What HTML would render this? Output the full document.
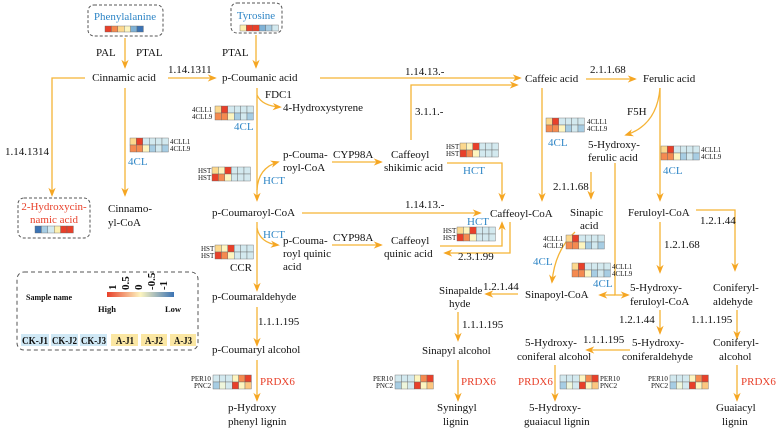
<!DOCTYPE html>
<html><head><meta charset="utf-8"><style>
html,body{margin:0;padding:0;background:#fff}
svg{display:block}
text{font-family:"Liberation Serif",serif;font-size:11px;fill:#111}
.b{fill:#2f86c6}.r{fill:#e8402a}.s{font-size:7px}
.l{fill:none;stroke:#f5b335;stroke-width:1.3}
</style></head><body>
<svg width="781" height="429" viewBox="0 0 781 429" xmlns="http://www.w3.org/2000/svg">
<defs>
<marker id="a" viewBox="0 0 10 10" refX="8" refY="5" markerWidth="7" markerHeight="7" orient="auto"><path d="M0,1 L10,5 L0,9 L3,5 Z" fill="#f5a623"/></marker>
<linearGradient id="gr"><stop offset="0" stop-color="#e8402a"/><stop offset="0.5" stop-color="#fdf5c0"/><stop offset="1" stop-color="#3b73b4"/></linearGradient>
<g id="c4"><g stroke="#666" stroke-width="0.4">
<rect x="0" y="0" width="6.4" height="7" fill="#fcd88e"/><rect x="6.4" y="0" width="6.4" height="7" fill="#e8402a"/><rect x="12.8" y="0" width="6.4" height="7" fill="#d3e9ef"/><rect x="19.2" y="0" width="6.4" height="7" fill="#d3e9ef"/><rect x="25.6" y="0" width="6.4" height="7" fill="#d3e9ef"/><rect x="32" y="0" width="6.4" height="7" fill="#d3e9ef"/>
<rect x="0" y="7" width="6.4" height="7" fill="#f58a50"/><rect x="6.4" y="7" width="6.4" height="7" fill="#f58a50"/><rect x="12.8" y="7" width="6.4" height="7" fill="#fdf5c0"/><rect x="19.2" y="7" width="6.4" height="7" fill="#a7cde3"/><rect x="25.6" y="7" width="6.4" height="7" fill="#d3e9ef"/><rect x="32" y="7" width="6.4" height="7" fill="#a7cde3"/></g></g>
<g id="hs"><g stroke="#666" stroke-width="0.4">
<rect x="0" y="0" width="6.4" height="7" fill="#fcd88e"/><rect x="6.4" y="0" width="6.4" height="7" fill="#fdf5c0"/><rect x="12.8" y="0" width="6.4" height="7" fill="#e8402a"/><rect x="19.2" y="0" width="6.4" height="7" fill="#d3e9ef"/><rect x="25.6" y="0" width="6.4" height="7" fill="#d3e9ef"/><rect x="32" y="0" width="6.4" height="7" fill="#d3e9ef"/>
<rect x="0" y="7" width="6.4" height="7" fill="#e8402a"/><rect x="6.4" y="7" width="6.4" height="7" fill="#f58a50"/><rect x="12.8" y="7" width="6.4" height="7" fill="#fdf5c0"/><rect x="19.2" y="7" width="6.4" height="7" fill="#d3e9ef"/><rect x="25.6" y="7" width="6.4" height="7" fill="#d3e9ef"/><rect x="32" y="7" width="6.4" height="7" fill="#d3e9ef"/></g></g>
<g id="pe"><g stroke="#666" stroke-width="0.4">
<rect x="0" y="0" width="6.4" height="7" fill="#d3e9ef"/><rect x="6.4" y="0" width="6.4" height="7" fill="#d3e9ef"/><rect x="12.8" y="0" width="6.4" height="7" fill="#d3e9ef"/><rect x="19.2" y="0" width="6.4" height="7" fill="#fdf5c0"/><rect x="25.6" y="0" width="6.4" height="7" fill="#f58a50"/><rect x="32" y="0" width="6.4" height="7" fill="#e8402a"/>
<rect x="0" y="7" width="6.4" height="7" fill="#a7cde3"/><rect x="6.4" y="7" width="6.4" height="7" fill="#eef6dc"/><rect x="12.8" y="7" width="6.4" height="7" fill="#d3e9ef"/><rect x="19.2" y="7" width="6.4" height="7" fill="#e8402a"/><rect x="25.6" y="7" width="6.4" height="7" fill="#fdf5c0"/><rect x="32" y="7" width="6.4" height="7" fill="#fcc680"/></g></g>
</defs>

<rect x="88" y="5" width="75" height="31" rx="6" fill="none" stroke="#555" stroke-dasharray="3,2"/>
<text x="125" y="20" text-anchor="middle" class="b">Phenylalanine</text>
<g stroke="#666" stroke-width="0.4"><rect x="105" y="26" width="6.4" height="6" fill="#e8402a"/><rect x="111.4" y="26" width="6.4" height="6" fill="#f58a50"/><rect x="117.8" y="26" width="6.4" height="6" fill="#fcd88e"/><rect x="124.2" y="26" width="6.4" height="6" fill="#fdf5c0"/><rect x="130.6" y="26" width="6.4" height="6" fill="#7fb2d6"/><rect x="137" y="26" width="6.4" height="6" fill="#3b73b4"/></g>
<rect x="231" y="3" width="51" height="30" rx="6" fill="none" stroke="#555" stroke-dasharray="3,2"/>
<text x="256" y="19" text-anchor="middle" class="b">Tyrosine</text>
<g stroke="#666" stroke-width="0.4"><rect x="240" y="25" width="6.4" height="6" fill="#fdf0b0"/><rect x="246.4" y="25" width="6.4" height="6" fill="#e8402a"/><rect x="252.8" y="25" width="6.4" height="6" fill="#e8402a"/><rect x="259.2" y="25" width="6.4" height="6" fill="#7fb2d6"/><rect x="265.6" y="25" width="6.4" height="6" fill="#a7cde3"/><rect x="272" y="25" width="6.4" height="6" fill="#d3e9ef"/></g>
<rect x="18" y="198" width="72" height="40" rx="6" fill="none" stroke="#555" stroke-dasharray="3,2"/>
<text x="54" y="210" text-anchor="middle" class="r">2-Hydroxycin-</text>
<text x="54" y="223" text-anchor="middle" class="r">namic acid</text>
<g stroke="#666" stroke-width="0.4"><rect x="35" y="226" width="6.4" height="7" fill="#3b73b4"/><rect x="41.4" y="226" width="6.4" height="7" fill="#a7cde3"/><rect x="47.8" y="226" width="6.4" height="7" fill="#d3e9ef"/><rect x="54.2" y="226" width="6.4" height="7" fill="#fdf0b0"/><rect x="60.6" y="226" width="6.4" height="7" fill="#e8402a"/><rect x="67" y="226" width="6.4" height="7" fill="#e8402a"/></g>

<rect x="17" y="272" width="181" height="78" rx="7" fill="none" stroke="#555" stroke-dasharray="4,3"/>
<text x="26" y="300" style="font-size:8px;font-weight:bold">Sample name</text>
<rect x="107" y="292" width="67" height="5" fill="url(#gr)"/>
<g style="font-size:7.5px;font-weight:bold">
<text transform="translate(116,290) rotate(-90)">1</text><text transform="translate(129,290) rotate(-90)">0.5</text><text transform="translate(142,290) rotate(-90)">0</text><text transform="translate(155,290) rotate(-90)">-0.5</text><text transform="translate(167,290) rotate(-90)">-1</text>
<text x="98" y="312" style="font-size:8.5px">High</text><text x="165" y="312" style="font-size:8.5px">Low</text></g>
<g style="font-size:8px;font-weight:bold">
<rect x="21" y="334" width="28" height="12" fill="#cfe8f5"/><rect x="51" y="334" width="27" height="12" fill="#cfe8f5"/><rect x="80" y="334" width="27" height="12" fill="#cfe8f5"/>
<rect x="111" y="334" width="27" height="12" fill="#fbe7a3"/><rect x="141" y="334" width="26" height="12" fill="#fbe7a3"/><rect x="170" y="334" width="26" height="12" fill="#fbe7a3"/>
<text x="22" y="344" textLength="26" lengthAdjust="spacingAndGlyphs">CK-J1</text><text x="52" y="344" textLength="25" lengthAdjust="spacingAndGlyphs">CK-J2</text><text x="81" y="344" textLength="25" lengthAdjust="spacingAndGlyphs">CK-J3</text>
<text x="116" y="344" textLength="18" lengthAdjust="spacingAndGlyphs">A-J1</text><text x="145" y="344" textLength="18" lengthAdjust="spacingAndGlyphs">A-J2</text><text x="174" y="344" textLength="18" lengthAdjust="spacingAndGlyphs">A-J3</text></g>

<g class="l" marker-end="url(#a)">
<path d="M125,38 V67"/><path d="M256,35 V67"/>
<path d="M168,78 H215"/><path d="M320,78 H520"/><path d="M411,140 V85 H517"/>
<path d="M586,79 H635"/>
<path d="M85,78 H52 V195"/><path d="M125,88 V195"/>
<path d="M257,88 V200"/><path d="M257,95 Q262,106 280,107"/>
<path d="M257,190 Q258,168 278,162"/><path d="M332,162 H381"/>
<path d="M447,163 H502 V200"/><path d="M302,213 H480"/>
<path d="M542,88 V200"/><path d="M660,88 Q657,125 626,135"/><path d="M660,88 V200"/>
<path d="M591,172 V198"/>
<path d="M696,210 H735 V270"/><path d="M660,222 V272"/>
<path d="M615,163 V295 H628"/><path d="M615,295 H600"/>
<path d="M575,232 Q555,250 552,282"/>
<path d="M440,246 H502 V223"/><path d="M510,222 V253 H445"/>
<path d="M257,222 V290"/><path d="M257,228 Q260,243 278,245"/><path d="M332,245 H381"/>
<path d="M257,307 V345"/><path d="M257,360 V400"/>
<path d="M518,294 H486"/><path d="M458,312 V340"/><path d="M458,360 V400"/>
<path d="M660,310 V333"/><path d="M737,310 V338"/><path d="M737,365 V400"/>
<path d="M630,350 H587"/><path d="M555,365 V400"/>
</g>

<use href="#c4" x="130" y="138"/><text x="170" y="144" class="s">4CLL1</text><text x="170" y="151" class="s">4CLL9</text><text x="128" y="165" class="b">4CL</text>
<use href="#c4" x="215" y="106"/><text x="192" y="112" class="s">4CLL1</text><text x="192" y="119" class="s">4CLL9</text><text x="234" y="130" class="b">4CL</text>
<use href="#hs" x="212" y="167"/><text x="198" y="173" class="s">HST</text><text x="198" y="180" class="s">HST</text><text x="263" y="184" class="b">HCT</text>
<use href="#hs" x="460" y="143"/><text x="446" y="149" class="s">HST</text><text x="446" y="156" class="s">HST</text><text x="463" y="174" class="b">HCT</text>
<use href="#c4" x="546" y="118"/><text x="587" y="124" class="s">4CLL1</text><text x="587" y="131" class="s">4CLL9</text><text x="548" y="146" class="b">4CL</text>
<use href="#c4" x="661" y="146"/><text x="701" y="152" class="s">4CLL1</text><text x="701" y="159" class="s">4CLL9</text><text x="663" y="174" class="b">4CL</text>
<use href="#hs" x="457" y="227"/><text x="443" y="233" class="s">HST</text><text x="443" y="240" class="s">HST</text><text x="467" y="225" class="b">HCT</text>
<use href="#c4" x="566" y="235"/><text x="543" y="241" class="s">4CLL1</text><text x="543" y="248" class="s">4CLL9</text><text x="533" y="265" class="b">4CL</text>
<use href="#c4" x="572" y="263"/><text x="612" y="269" class="s">4CLL1</text><text x="612" y="276" class="s">4CLL9</text><text x="593" y="287" class="b">4CL</text>
<use href="#hs" x="215" y="245"/><text x="201" y="251" class="s">HST</text><text x="201" y="258" class="s">HST</text><text x="263" y="238" class="b">HCT</text>
<use href="#pe" x="213" y="375"/><text x="191" y="381" class="s">PER10</text><text x="194" y="388" class="s">PNC2</text><text x="260" y="385" class="r">PRDX6</text>
<use href="#pe" x="395" y="375"/><text x="373" y="381" class="s">PER10</text><text x="376" y="388" class="s">PNC2</text><text x="461" y="385" class="r">PRDX6</text>
<use href="#pe" x="560" y="375"/><text x="600" y="381" class="s">PER10</text><text x="600" y="388" class="s">PNC2</text><text x="518" y="385" class="r">PRDX6</text>
<use href="#pe" x="670" y="375"/><text x="648" y="381" class="s">PER10</text><text x="651" y="388" class="s">PNC2</text><text x="741" y="385" class="r">PRDX6</text>

<text x="96" y="56">PAL</text><text x="136" y="56">PTAL</text><text x="222" y="56">PTAL</text>
<text x="124" y="81" text-anchor="middle">Cinnamic acid</text>
<text x="168" y="73">1.14.1311</text>
<text x="222" y="81">p-Coumanic acid</text>
<text x="405" y="75">1.14.13.-</text>
<text x="525" y="82">Caffeic acid</text>
<text x="590" y="73">2.1.1.68</text>
<text x="643" y="82">Ferulic acid</text>
<text x="415" y="115">3.1.1.-</text>
<text x="5" y="155">1.14.1314</text>
<text x="108" y="212">Cinnamo-</text><text x="108" y="226">yl-CoA</text>
<text x="265" y="98">FDC1</text><text x="283" y="111">4-Hydroxystyrene</text>
<text x="283" y="158">p-Couma-</text><text x="283" y="171">royl-CoA</text>
<text x="333" y="158">CYP98A</text>
<text x="391" y="158">Caffeoyl</text><text x="384" y="171">shikimic acid</text>
<text x="212" y="216">p-Coumaroyl-CoA</text>
<text x="405" y="208">1.14.13.-</text>
<text x="490" y="217">Caffeoyl-CoA</text>
<text x="588" y="148">5-Hydroxy-</text><text x="588" y="161">ferulic acid</text>
<text x="627" y="115">F5H</text>
<text x="553" y="190">2.1.1.68</text>
<text x="570" y="216">Sinapic</text><text x="580" y="229">acid</text>
<text x="628" y="216">Feruloyl-CoA</text>
<text x="700" y="224">1.2.1.44</text>
<text x="664" y="248">1.2.1.68</text>
<text x="283" y="244">p-Couma-</text><text x="283" y="257">royl quinic</text><text x="283" y="270">acid</text>
<text x="333" y="241">CYP98A</text>
<text x="391" y="244">Caffeoyl</text><text x="384" y="257">quinic acid</text>
<text x="458" y="260">2.3.1.99</text>
<text x="230" y="271">CCR</text>
<text x="212" y="300">p-Coumaraldehyde</text>
<text x="258" y="325">1.1.1.195</text>
<text x="212" y="353">p-Coumaryl alcohol</text>
<text x="228" y="411">p-Hydroxy</text><text x="228" y="425">phenyl lignin</text>
<text x="525" y="298">Sinapoyl-CoA</text>
<text x="483" y="290">1.2.1.44</text>
<text x="439" y="294">Sinapalde</text><text x="449" y="307">hyde</text>
<text x="462" y="328">1.1.1.195</text>
<text x="422" y="354">Sinapyl alcohol</text>
<text x="437" y="411">Syningyl</text><text x="443" y="425">lignin</text>
<text x="630" y="291">5-Hydroxy-</text><text x="630" y="305">feruloyl-CoA</text>
<text x="619" y="323">1.2.1.44</text>
<text x="713" y="291">Coniferyl-</text><text x="713" y="305">aldehyde</text>
<text x="691" y="323">1.1.1.195</text>
<text x="632" y="346">5-Hydroxy-</text><text x="622" y="360">coniferaldehyde</text>
<text x="583" y="343">1.1.1.195</text>
<text x="525" y="346">5-Hydroxy-</text><text x="517" y="360">coniferal alcohol</text>
<text x="713" y="346">Coniferyl-</text><text x="719" y="360">alcohol</text>
<text x="529" y="411">5-Hydroxy-</text><text x="524" y="425">guaiacul lignin</text>
<text x="716" y="411">Guaiacyl</text><text x="722" y="425">lignin</text>
</svg>
</body></html>
